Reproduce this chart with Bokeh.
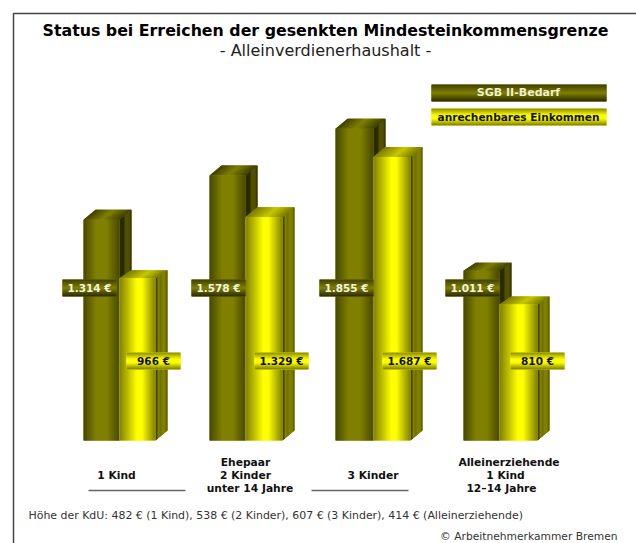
from bokeh.plotting import figure
from bokeh.models import Range1d
from bokeh.core.properties import value
from bokeh.embed import file_html
from bokeh.resources import INLINE

# ---- data
categories = [["1 Kind"], ["Ehepaar", "2 Kinder", "unter 14 Jahre"], ["3 Kinder"],
              ["Alleinerziehende", "1 Kind", "12\u201314 Jahre"]]
sgb_bedarf = [1314, 1578, 1855, 1011]
einkommen = [966, 1329, 1687, 810]
sgb_labels = ["1.314 \u20ac", "1.578 \u20ac", "1.855 \u20ac", "1.011 \u20ac"]
eink_labels = ["966 \u20ac", "1.329 \u20ac", "1.687 \u20ac", "810 \u20ac"]
legend_names = ["SGB II-Bedarf", "anrechenbares Einkommen"]
title = "Status bei Erreichen der gesenkten Mindesteinkommensgrenze"
subtitle = "- Alleinverdienerhaushalt -"
footnote = "H\u00f6he der KdU: 482 \u20ac (1 Kind), 538 \u20ac (2 Kinder), 607 \u20ac (3 Kinder), 414 \u20ac (Alleinerziehende)"
copyright_text = "\u00a9 Arbeitnehmerkammer Bremen"

# ---- layout (page pixels)
W, H = 636, 543
BASE = 440
PX_PER_EUR = 0.168
sgb_x = [83, 209, 335, 463]
eink_x = [119, 245, 373, 499]
eink_right = [155, 282, 410, 537]
sgb_top_dy = [10, 10, 10, 8]
eink_top_dy = [8, 10, 10, 8]
sgb_label_x = [62, 191, 319, 445]
eink_label_x = [126, 254, 382, 510]
cat_line_x = [[116], [245, 245, 249.5], [372.5], [508.5, 505, 501]]
FONT = "DejaVu Sans"


def ry(r):
    return (BASE - r) / PX_PER_EUR


p = figure(width=W, height=H, output_backend="svg", toolbar_location=None,
           x_range=Range1d(0, W), y_range=Range1d(ry(H), ry(0)),
           x_axis_type=None, y_axis_type=None, min_border=0,
           background_fill_color="white", border_fill_color="white")
p.grid.visible = False
p.outline_line_color = None


def lerp(stops, t):
    for (a, ca), (b, cb) in zip(stops, stops[1:]):
        if t <= b:
            f = 0 if b == a else (t - a) / (b - a)
            c = [round(ca[i] + (cb[i] - ca[i]) * f) for i in range(3)]
            return "#%02x%02x%02x" % tuple(c)
    return "#%02x%02x%02x" % tuple(stops[-1][1])


OL = (0x80, 0x80, 0)
DK = (0x48, 0x48, 0)
VD = (0x2a, 0x2a, 0)
YE = (0xff, 0xff, 0)
MD = (0x80, 0x80, 0)
front_ol = [(0, DK), (.35, OL), (.65, OL), (1, DK)]
front_ye = [(0, MD), (.48, YE), (.62, YE), (1, MD)]
side_ol = [(0, VD), (.38, VD), (.42, (0x50, 0x50, 0)), (.8, (0x50, 0x50, 0)), (1, (0x2a, 0x2a, 0))]
side_ye = [(0, (0x40, 0x40, 0)), (.12, (0x40, 0x40, 0)), (.18, OL), (.36, OL), (.42, (0x50, 0x50, 0)),
           (.48, OL), (.8, OL), (1, (0x50, 0x50, 0))]
top_ol = [(0, (0x3c, 0x3c, 0)), (.5, OL), (1, (0x3c, 0x3c, 0))]
top_ye = [(0, (0x78, 0x78, 0)), (.55, (0xc8, 0xc8, 0)), (1, (0x78, 0x78, 0))]
ban_ol = [(0, (0x40, 0x40, 0)), (.5, OL), (1, (0x28, 0x28, 0))]
ban_ye = [(0, (0x88, 0x88, 0)), (.4, YE), (.6, YE), (1, (0x78, 0x78, 0))]

xs, ys, cols = [], [], []


def add(poly_x, poly_y, c):
    xs.append(poly_x)
    ys.append(poly_y)
    cols.append(c)


def bar(x0, x1, val, dy, stops_f, stops_s, stops_t):
    DX, BDY = 12, 10
    n = x1 - x0
    top_up = dy / PX_PER_EUR
    # opaque bases under the strips, so that no white shows between them
    add([x1, x1 + DX, x1 + DX, x1], [0, ry(BASE - BDY), val + top_up, val], lerp(stops_s, .6))
    add([x0, x1, x1 + DX, x0 + DX], [val, val, val + top_up, val + top_up], lerp(stops_t, .5))
    add([x0, x1, x1, x0], [0, 0, val, val], lerp(stops_f, .5))
    # side
    for i in range(DX):
        a, b = x1 + i, min(x1 + i + 1.5, x1 + DX)
        fa, fb = (a - x1) / DX, (b - x1) / DX
        add([a, b, b, a], [ry(BASE - BDY * fa), ry(BASE - BDY * fb), val + top_up * fb, val + top_up * fa],
            lerp(stops_s, (i + .5) / DX))
    # top
    for i in range(n):
        a, b = x0 + i, min(x0 + i + 1.5, x1)
        add([a, b, b + DX, a + DX], [val, val, val + top_up, val + top_up], lerp(stops_t, (i + .5) / n))
    # front
    for i in range(n):
        a, b = x0 + i, min(x0 + i + 1.5, x1)
        add([a, b, b, a], [0, 0, val, val], lerp(stops_f, (i + .5) / n))


def banner(x0, x1, r0, r1, stops):
    n = r1 - r0
    add([x0, x1, x1, x0], [ry(r0), ry(r0), ry(r1), ry(r1)], lerp(stops, .5))
    for i in range(n):
        e = min(r0 + i + 1.5, r1)
        add([x0, x1, x1, x0], [ry(r0 + i), ry(r0 + i), ry(e), ry(e)], lerp(stops, (i + .5) / n))


for g in range(len(categories)):
    bar(sgb_x[g], eink_x[g], sgb_bedarf[g], sgb_top_dy[g], front_ol, side_ol, top_ol)
    bar(eink_x[g], eink_right[g], einkommen[g], eink_top_dy[g], front_ye, side_ye, top_ye)
for g in range(len(categories)):
    banner(sgb_label_x[g], sgb_label_x[g] + 54, 279, 296, ban_ol)
    banner(eink_label_x[g], eink_label_x[g] + 54, 352, 369, ban_ye)
banner(431, 606, 84, 101, ban_ol)
banner(431, 606, 108, 125, ban_ye)
p.patches(xs, ys, fill_color=cols, fill_alpha=1.0, line_color=None)

# frame and rules
p.line([13, 13, W], [ry(H), ry(13), ry(13)], line_color="#444444", line_width=1.5)
p.segment([88, 311], [ry(490)] * 2, [185, 408], [ry(490)] * 2, line_color="#666666", line_width=1.5)


def txt(x, r, s, size, color="#111111", bold=False, align="center"):
    p.text([x], [ry(r)], text=[s], text_font=value(FONT), text_font_size=f"{size}px",
           text_font_style="bold" if bold else "normal", text_color=color,
           text_align=align, text_baseline="middle")


txt(325, 30, title, 15.8, "#000000", True)
txt(325, 50, subtitle, 16, "#222222")
txt(518, 92, legend_names[0], 11, "#f0f0d0", True)
txt(518, 116, legend_names[1], 10.6, "#111100", True)
for g in range(len(categories)):
    txt(sgb_label_x[g] + 27, 287, sgb_labels[g], 10.5, "#f4f4e0", True)
    txt(eink_label_x[g] + 27, 360.5, eink_labels[g], 10.5, "#111100", True)
    lines = categories[g]
    start = 475 - (len(lines) - 1) * 6.5
    for k, s in enumerate(lines):
        txt(cat_line_x[g][k], start + k * 13, s, 10.7, "#111111", True)
txt(28, 515, footnote, 10.95, "#333333", False, "left")
txt(617, 536, copyright_text, 10.7, "#333333", False, "right")

open("out.html", "w").write(file_html(p, INLINE))
